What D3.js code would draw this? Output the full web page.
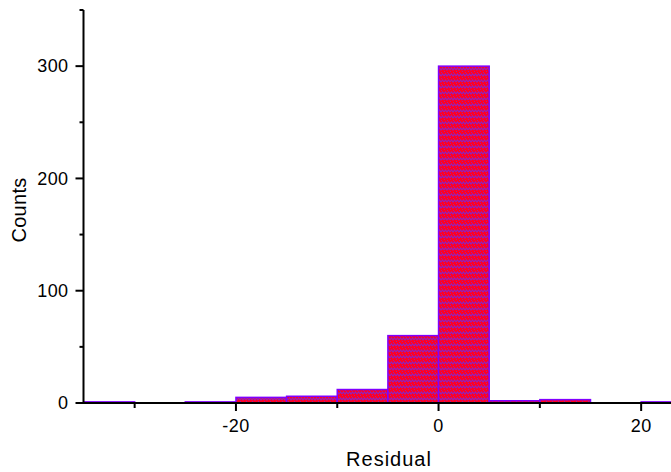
<!DOCTYPE html>
<html><head><meta charset="utf-8">
<script src="https://cdn.jsdelivr.net/npm/d3@7"></script>
<style>body{margin:0;background:#fff}svg{display:block}text{font-family:"Liberation Sans",Arial,sans-serif;fill:#000}</style>
</head><body>
<script>
const binStarts = [-35,-30,-25,-20,-15,-10,-5,0,5,10,15,20];
const counts    = [1,0,1,5,6,12,60,300,2,3,0,1];
const binWidth = 5;
const xMajorTicks = [-20,0,20];
const xMinorTicks = [-30,-10,10,30];
const yMajorTicks = [0,100,200,300];
const yMinorTicks = [50,150,250,350];

const W=671,H=472;
const svg=d3.select("body").append("svg").attr("width",W).attr("height",H);
const x=d3.scaleLinear().domain([-35,25]).range([84,691.8]);
const y=d3.scaleLinear().domain([0,350]).range([403,10]);

const defs=svg.append("defs");
const pat=defs.append("pattern").attr("id","pat").attr("patternUnits","userSpaceOnUse").attr("width",6).attr("height",6);
pat.append("rect").attr("width",6).attr("height",6).attr("fill","#ff0022");
pat.append("path").attr("d","M0,4 L1.5,2 L3,4 L4.5,2 L6,4").attr("stroke","#7a28d8").attr("stroke-width",1.2).attr("fill","none").attr("opacity",0.85);
pat.append("rect").attr("x",0).attr("y",5).attr("width",1).attr("height",1).attr("fill","#7a28d8").attr("opacity",0.7);
pat.append("rect").attr("x",3).attr("y",0).attr("width",1).attr("height",1).attr("fill","#7a28d8").attr("opacity",0.7);

const data=binStarts.map((s,i)=>({s,c:counts[i]}));
svg.append("g").selectAll("rect").data(data.filter(d=>d.c>0)).join("rect")
  .attr("x",d=>x(d.s)).attr("width",d=>x(d.s+binWidth)-x(d.s))
  .attr("y",d=>y(d.c)).attr("height",d=>y(0)-y(d.c))
  .attr("fill","url(#pat)").attr("stroke","#8000ff").attr("stroke-width",1.5);

// x axis
const gx=svg.append("g").attr("transform",`translate(0,${y(0)})`);
gx.append("line").attr("x1",x(-35)-1).attr("x2",W).attr("stroke","#000").attr("stroke-width",2);
gx.selectAll(".maj").data(xMajorTicks).join("line").attr("x1",d=>x(d)).attr("x2",d=>x(d)).attr("y1",0).attr("y2",8).attr("stroke","#000").attr("stroke-width",2);
gx.selectAll(".min").data(xMinorTicks).join("line").attr("x1",d=>x(d)).attr("x2",d=>x(d)).attr("y1",0).attr("y2",5).attr("stroke","#000").attr("stroke-width",2);
gx.selectAll("text").data(xMajorTicks).join("text").attr("x",d=>x(d)).attr("y",29).attr("text-anchor","middle").attr("font-size",18).attr("letter-spacing",0.4).text(d=>d);

// y axis
const gy=svg.append("g").attr("transform",`translate(${x(-35)-0.5},0)`);
gy.append("line").attr("y1",y(350)).attr("y2",y(0)+1).attr("stroke","#000").attr("stroke-width",2);
gy.selectAll(".maj").data(yMajorTicks).join("line").attr("y1",d=>y(d)).attr("y2",d=>y(d)).attr("x1",0).attr("x2",-8).attr("stroke","#000").attr("stroke-width",2);
gy.selectAll(".min").data(yMinorTicks).join("line").attr("y1",d=>y(d)).attr("y2",d=>y(d)).attr("x1",0).attr("x2",-4).attr("stroke","#000").attr("stroke-width",2);
gy.selectAll("text").data(yMajorTicks).join("text").attr("x",-15).attr("y",d=>y(d)).attr("dy","0.35em").attr("text-anchor","end").attr("font-size",18).attr("letter-spacing",0.4).text(d=>d);

svg.append("text").attr("x",389).attr("y",466).attr("text-anchor","middle").attr("font-size",20).attr("letter-spacing",1).text("Residual");
svg.append("text").attr("transform","translate(26,210) rotate(-90)").attr("text-anchor","middle").attr("font-size",20).attr("letter-spacing",0.3).text("Counts");
</script>
</body></html>
